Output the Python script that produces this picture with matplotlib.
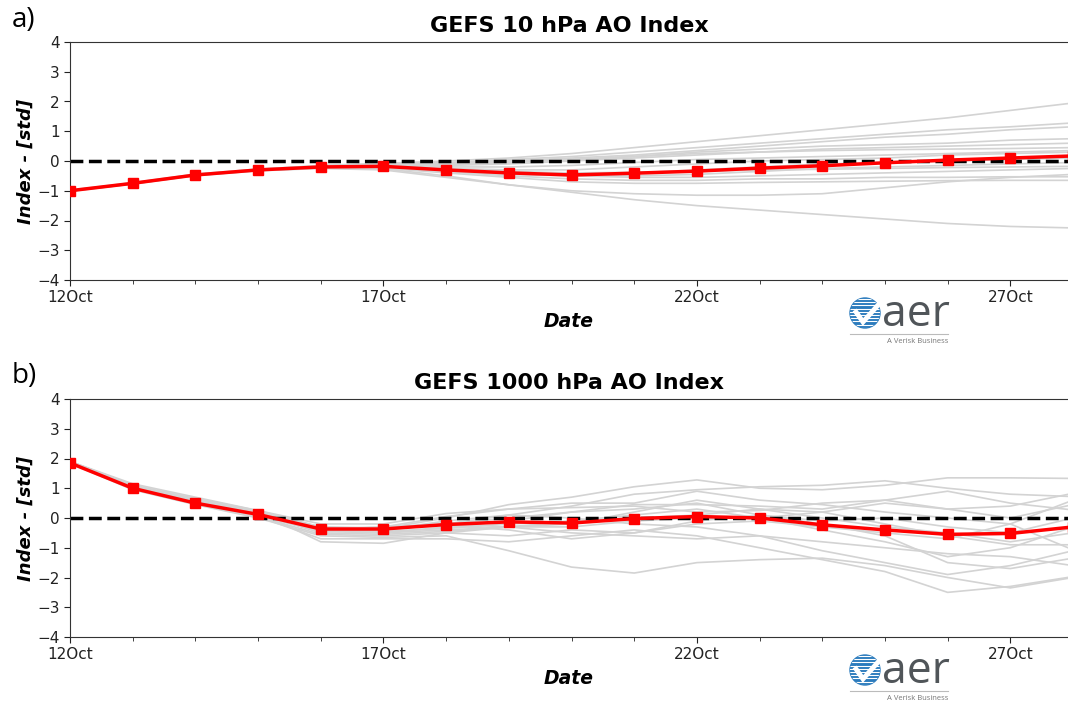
import numpy as np
import matplotlib
matplotlib.use('Agg')
import matplotlib.pyplot as plt
from matplotlib.patches import Circle
from matplotlib.ticker import FixedLocator

# days of October, one value per day
days = [12, 13, 14, 15, 16, 17, 18, 19, 20, 21, 22, 23, 24, 25, 26, 27, 28]
tick_days = [12, 17, 22, 27]
tick_labels = ['12Oct', '17Oct', '22Oct', '27Oct']

# ensemble mean, 10 hPa
ao10_mean = [-1.0, -0.75, -0.47, -0.3, -0.2, -0.18, -0.3, -0.4, -0.47, -0.41,
             -0.34, -0.24, -0.16, -0.06, 0.03, 0.1, 0.17]

# ensemble members, 10 hPa
ao10_members = [
    [-1.0, -0.74, -0.45, -0.28, -0.15, -0.08, 0.0, 0.1, 0.25, 0.45, 0.65, 0.85, 1.05, 1.25, 1.45, 1.7, 1.95],
    [-0.98, -0.73, -0.44, -0.27, -0.16, -0.1, -0.05, 0.05, 0.15, 0.3, 0.45, 0.6, 0.75, 0.9, 1.05, 1.15, 1.28],
    [-1.0, -0.76, -0.46, -0.29, -0.18, -0.12, -0.08, 0.0, 0.1, 0.2, 0.35, 0.5, 0.65, 0.8, 0.9, 1.05, 1.15],
    [-1.02, -0.77, -0.48, -0.3, -0.2, -0.13, -0.1, -0.05, 0.05, 0.15, 0.3, 0.4, 0.5, 0.55, 0.6, 0.7, 0.75],
    [-0.99, -0.75, -0.47, -0.3, -0.19, -0.15, -0.15, -0.1, 0.0, 0.1, 0.2, 0.3, 0.4, 0.45, 0.5, 0.55, 0.6],
    [-1.0, -0.75, -0.46, -0.29, -0.18, -0.14, -0.12, -0.05, 0.05, 0.15, 0.25, 0.3, 0.35, 0.38, 0.4, 0.42, 0.45],
    [-1.01, -0.76, -0.47, -0.31, -0.21, -0.17, -0.2, -0.2, -0.15, -0.05, 0.05, 0.1, 0.15, 0.2, 0.25, 0.3, 0.35],
    [-1.0, -0.75, -0.46, -0.29, -0.2, -0.2, -0.25, -0.3, -0.3, -0.2, -0.1, 0.0, 0.05, 0.1, 0.2, 0.25, 0.3],
    [-1.0, -0.76, -0.48, -0.31, -0.22, -0.2, -0.3, -0.4, -0.45, -0.4, -0.3, -0.2, -0.1, -0.05, 0.0, 0.05, 0.1],
    [-1.01, -0.77, -0.49, -0.32, -0.22, -0.22, -0.35, -0.45, -0.5, -0.5, -0.45, -0.35, -0.25, -0.2, -0.15, -0.1, -0.05],
    [-0.99, -0.75, -0.47, -0.3, -0.21, -0.2, -0.3, -0.4, -0.5, -0.55, -0.55, -0.5, -0.45, -0.4, -0.35, -0.3, -0.25],
    [-1.0, -0.76, -0.48, -0.31, -0.22, -0.22, -0.35, -0.5, -0.6, -0.65, -0.65, -0.6, -0.6, -0.55, -0.55, -0.53, -0.53],
    [-1.0, -0.75, -0.47, -0.3, -0.22, -0.24, -0.4, -0.55, -0.7, -0.75, -0.75, -0.72, -0.7, -0.68, -0.66, -0.65, -0.65],
    [-1.0, -0.76, -0.48, -0.32, -0.24, -0.26, -0.5, -0.8, -1.0, -1.1, -1.15, -1.15, -1.1, -0.9, -0.7, -0.55, -0.45],
    [-1.01, -0.77, -0.49, -0.33, -0.25, -0.3, -0.55, -0.8, -1.05, -1.3, -1.5, -1.65, -1.8, -1.95, -2.1, -2.2, -2.25],
    [-1.0, -0.75, -0.47, -0.3, -0.2, -0.19, -0.28, -0.35, -0.4, -0.38, -0.35, -0.3, -0.28, -0.25, -0.22, -0.2, -0.18],
]

# ensemble mean, 1000 hPa
ao1000_mean = [1.85, 1.0, 0.5, 0.12, -0.37, -0.37, -0.22, -0.13, -0.17, -0.02,
               0.05, 0.0, -0.23, -0.4, -0.55, -0.52, -0.3]

# ensemble members, 1000 hPa
ao1000_members = [
    [1.9, 1.15, 0.7, 0.25, -0.3, -0.35, 0.0, 0.45, 0.7, 1.05, 1.28, 1.0, 0.95, 1.1, 1.35, 1.35, 1.33],
    [1.88, 1.1, 0.65, 0.2, -0.35, -0.4, -0.2, 0.1, 0.4, 0.8, 0.95, 1.05, 1.1, 1.25, 1.0, 0.8, 0.72],
    [1.85, 1.05, 0.6, 0.15, -0.4, -0.3, 0.05, 0.3, 0.5, 0.5, 0.9, 0.6, 0.45, 0.2, 0.0, -0.2, -1.07],
    [1.87, 1.0, 0.5, 0.1, -0.45, -0.5, -0.3, -0.1, 0.2, 0.45, 0.45, 0.4, 0.3, 0.6, 0.9, 0.5, 0.27],
    [1.9, 1.1, 0.55, 0.15, -0.5, -0.55, -0.45, -0.3, -0.1, 0.1, 0.3, 0.0, -0.4, -0.8, -1.3, -1.0, -0.3],
    [1.86, 1.05, 0.5, 0.05, -0.55, -0.6, -0.5, -0.6, -0.4, -0.5, -0.1, 0.1, -0.2, -0.6, -1.5, -1.7, -1.35],
    [1.84, 0.95, 0.45, 0.0, -0.6, -0.65, -0.6, -1.1, -1.65, -1.85, -1.5, -1.4, -1.35, -1.6, -2.0, -2.35, -2.0],
    [1.85, 1.0, 0.5, 0.05, -0.7, -0.7, -0.7, -0.8, -0.6, -0.4, -0.6, -1.0, -1.4, -1.8, -2.5, -2.3, -1.97],
    [1.88, 1.05, 0.6, 0.2, -0.8, -0.85, -0.5, -0.3, -0.5, -0.6, -0.7, -0.6, -1.1, -1.5, -1.9, -1.6, -1.1],
    [1.9, 1.1, 0.65, 0.25, -0.2, -0.2, 0.15, 0.3, 0.35, 0.4, 0.2, 0.25, 0.5, 0.6, 0.3, 0.4, 0.83],
    [1.86, 1.0, 0.55, 0.1, -0.4, -0.45, -0.35, -0.2, -0.1, 0.0, 0.1, 0.3, 0.0, -0.3, -0.5, -0.8, -0.5],
    [1.87, 1.05, 0.5, 0.1, -0.45, -0.35, -0.2, 0.0, 0.2, 0.3, 0.5, 0.1, -0.1, 0.0, -0.3, -0.5, 0.0],
    [1.85, 1.02, 0.52, 0.12, -0.38, -0.4, -0.1, 0.1, 0.0, -0.2, -0.3, -0.6, -0.8, -1.0, -1.2, -1.3, -1.6],
    [1.89, 1.08, 0.58, 0.18, -0.3, -0.35, -0.25, -0.4, -0.7, -0.5, -0.2, -0.1, -0.3, -0.5, -0.7, -0.2, 0.6],
    [1.86, 1.0, 0.48, 0.08, -0.42, -0.5, -0.4, -0.3, -0.2, 0.2, 0.6, 0.3, 0.2, -0.2, -0.6, -0.9, -0.9],
    [1.88, 1.06, 0.56, 0.16, -0.35, -0.3, -0.2, -0.3, -0.3, -0.1, 0.0, 0.0, 0.2, 0.5, 0.3, 0.0, 0.45],
]

W, H = 1068, 703


def px_rect(left, top, right, bottom):
    return [left / W, 1 - bottom / H, (right - left) / W, (bottom - top) / H]


def draw_panel(ax, title, mean, members):
    for m in members:
        ax.plot(days, m, color='#d3d3d3', lw=1.2, zorder=1)
    ax.axhline(0, color='k', ls='--', lw=2.5, zorder=2)
    ax.plot(days, mean, color='red', lw=2.5, marker='s', ms=7, zorder=3)
    ax.set_xlim(12, 27.92)
    ax.set_ylim(-4, 4)
    ax.set_yticks(range(-4, 5))
    ax.xaxis.set_major_locator(FixedLocator(tick_days))
    ax.set_xticklabels(tick_labels)
    ax.xaxis.set_minor_locator(FixedLocator(days))
    ax.tick_params(axis='both', labelsize=11, colors='#222222', length=4)
    ax.tick_params(axis='x', which='minor', length=3, color='#222222')
    ax.spines['right'].set_visible(False)
    for s in ['left', 'bottom', 'top']:
        ax.spines[s].set_color('#333333')
    ax.set_title(title, fontsize=16, fontweight='bold', pad=7)
    ax.set_xlabel('Date', fontsize=13.5, fontweight='bold', fontstyle='italic', labelpad=5)
    ax.set_ylabel('Index - [std]', fontsize=13, fontweight='bold', fontstyle='italic', labelpad=2)


def draw_logo(ov, cx, cy):
    blue = '#2b7bbd'
    circ = Circle((cx, cy), 15, color=blue, zorder=5)
    ov.add_patch(circ)
    for yy in np.arange(cy - 14, cy + 15, 3.2):
        ln, = ov.plot([cx - 16, cx + 16], [yy, yy], color='white', lw=0.8, zorder=6)
        ln.set_clip_path(circ)
    ov.plot([cx - 9, cx - 2, cx + 14], [cy - 1, cy + 9, cy - 9], color='white', lw=3.5, zorder=7,
            solid_joinstyle='miter')
    ov.text(cx + 17, cy + 13, 'aer', fontsize=32, color='#505559', family='Open Sans',
            va='baseline', ha='left', zorder=7)
    ov.plot([cx - 15, cx + 83], [cy + 21, cy + 21], color='#bbbbbb', lw=0.8, zorder=7)
    ov.text(cx + 83, cy + 30, 'A Verisk Business', fontsize=5.5, color='#777777',
            family='Open Sans', ha='right', va='baseline', zorder=7)


fig = plt.figure(figsize=(W / 100, H / 100), dpi=100)

ax1 = fig.add_axes(px_rect(70, 42, 1068, 280))
draw_panel(ax1, 'GEFS 10 hPa AO Index', ao10_mean, ao10_members)

ax2 = fig.add_axes(px_rect(70, 399, 1068, 637))
draw_panel(ax2, 'GEFS 1000 hPa AO Index', ao1000_mean, ao1000_members)

fig.text(12 / W, 1 - 20 / H, 'a)', fontsize=20, family='Open Sans', va='center', ha='left')
fig.text(12 / W, 1 - 376 / H, 'b)', fontsize=20, family='Open Sans', va='center', ha='left')

# overlay in pixel coordinates for the logos
ov = fig.add_axes([0, 0, 1, 1], zorder=10)
ov.set_xlim(0, W)
ov.set_ylim(H, 0)
ov.axis('off')
ov.patch.set_alpha(0)
draw_logo(ov, 865, 313)
draw_logo(ov, 865, 670)

fig.savefig('out.png', dpi=100)
